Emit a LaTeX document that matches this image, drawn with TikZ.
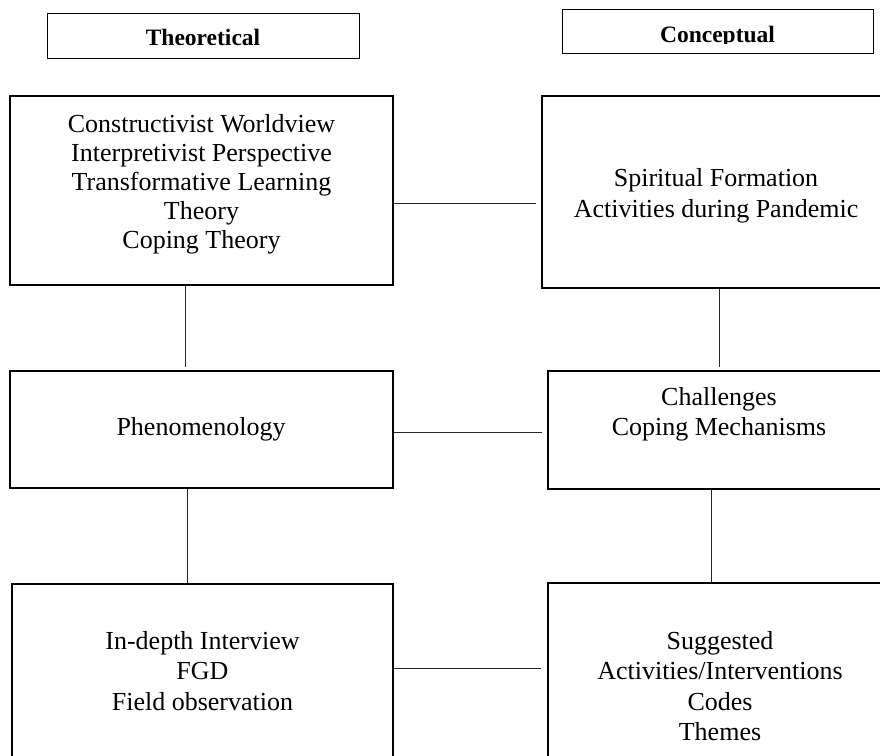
\documentclass[tikz,border=0pt]{standalone}
\usepackage{fontspec}
\setmainfont{Liberation Serif}[BoldFont={Liberation Serif Bold}]
\begin{document}
\begin{tikzpicture}[x=1pt,y=-1pt,
  box/.style={draw=black, line width=1.4pt, inner sep=0pt},
  hdr/.style={draw=black, line width=1pt, inner sep=0pt},
  txt/.style={align=center, inner sep=0pt, font=\fontsize{26}{30.5}\selectfont},
  btxt/.style={inner sep=0pt, font=\fontsize{23.5}{28}\selectfont\bfseries},
  link/.style={draw=black!85, line width=1pt}]
\useasboundingbox (0,0) rectangle (880,755);
\clip (0,0) rectangle (880,755);
% header boxes
\node[hdr, minimum width=312pt, minimum height=45pt] (theo) at (203,35.5) {};
\node[btxt, anchor=base] (theoT) at (203,45) {Theoretical};
\node[hdr, minimum width=311pt, minimum height=44pt] (conc) at (717.5,31) {};
\begin{scope}
\clip (562,9) rectangle (873,43.3);
\node[btxt, anchor=base] (concT) at (717.5,42) {Conceptual};
\end{scope}
% main boxes
\node[box, minimum width=383pt, minimum height=189pt] (b1) at (201.5,190.5) {};
\node[txt, font=\fontsize{26}{29}\selectfont] (t1) at (201.5,184) {Constructivist Worldview\\Interpretivist Perspective\\Transformative Learning\\Theory\\Coping Theory};
\node[box, minimum width=348pt, minimum height=192pt] (b2) at (716,192) {};
\node[txt] (t2) at (716,196) {Spiritual Formation\\Activities during Pandemic};
\node[box, minimum width=383pt, minimum height=117pt] (b3) at (201.5,429.5) {};
\node[txt, anchor=base] (t3) at (201,435) {Phenomenology};
\node[box, minimum width=342pt, minimum height=118pt] (b4) at (719,430) {};
\node[txt, font=\fontsize{26}{29.3}\selectfont] (t4) at (719,414.3) {Challenges\\Coping Mechanisms};
\node[box, minimum width=381pt, minimum height=196pt] (b5) at (202.5,682) {};
\node[txt] (t5) at (202.5,671) {In-depth Interview\\FGD\\Field observation};
\node[box, minimum width=342pt, minimum height=197pt] (b6) at (719,681.5) {};
\node[txt, font=\fontsize{26}{30.2}\selectfont] (t6) at (720,686) {Suggested\\Activities/Interventions\\Codes\\Themes};
% connectors
\draw[link, shorten >=5pt] (b1.east |- 0,203) -- (b2.west |- 0,203);
\draw[link, shorten >=5pt] (b3.east |- 0,432) -- (b4.west |- 0,432);
\draw[link, shorten >=6pt] (b5.east |- 0,668) -- (b6.west |- 0,668);
\draw[link, shorten >=3pt] (b1.south -| 185,0) -- (b3.north -| 185,0);
\draw[link, shorten >=3pt] (b2.south -| 719,0) -- (b4.north -| 719,0);
\draw[link] (b3.south -| 187,0) -- (b5.north -| 187,0);
\draw[link] (b4.south -| 711,0) -- (b6.north -| 711,0);
\end{tikzpicture}
\end{document}
